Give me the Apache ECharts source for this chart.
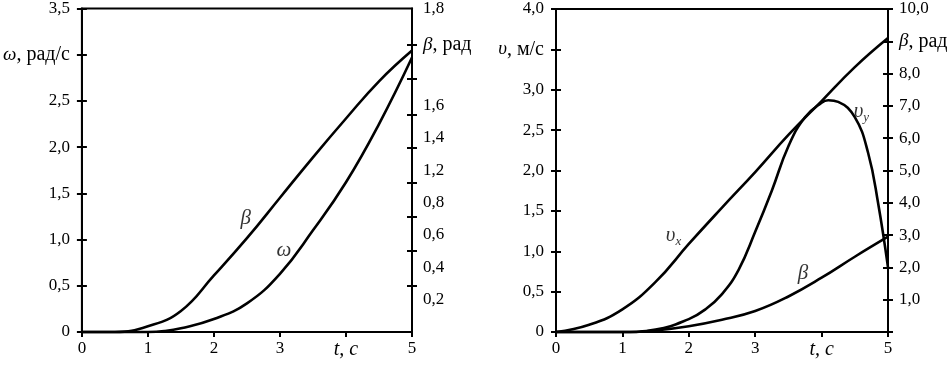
<!DOCTYPE html>
<html><head><meta charset="utf-8">
<script src="https://cdn.jsdelivr.net/npm/echarts@6/dist/echarts.min.js"></script>
<style>html,body{margin:0;padding:0;background:#fff}#c{width:951px;height:365px}</style>
</head><body><div id="c"></div>
<script>
// ---------- Left panel data ----------
const omegaT = [0, 0.5, 1.0, 1.25, 1.5, 2.0, 2.5, 3.0, 3.5, 4.0, 4.5, 5.0];
const omegaV = [0, 0, 0, 0.01, 0.04, 0.14, 0.31, 0.63, 1.10, 1.62, 2.25, 2.97];
const betaLT = [0, 0.5, 1.0, 1.5, 2.0, 2.5, 3.0, 3.5, 4.0, 4.5, 5.0];
const betaLV = [0, 0, 0.035, 0.13, 0.35, 0.58, 0.83, 1.08, 1.32, 1.55, 1.74];
// ---------- Right panel data ----------
const vxT = [0, 0.5, 1.0, 1.5, 2.0, 2.5, 3.0, 3.5, 4.0, 4.5, 5.0];
const vxV = [0, 0.09, 0.28, 0.62, 1.09, 1.54, 1.98, 2.44, 2.86, 3.28, 3.64];
const vyT = [0, 1.0, 1.5, 2.0, 2.25, 2.5, 2.75, 3.0, 3.25, 3.5, 3.75, 4.0, 4.1, 4.25, 4.5, 4.7, 4.85, 5.0];
const vyV = [0, 0, 0.03, 0.16, 0.28, 0.47, 0.77, 1.24, 1.75, 2.30, 2.66, 2.84, 2.87, 2.85, 2.66, 2.22, 1.60, 0.80];
const betaRT = [0, 1.0, 1.5, 2.0, 2.5, 3.0, 3.5, 4.0, 4.5, 5.0];
const betaRV = [0, 0, 0.05, 0.18, 0.38, 0.65, 1.10, 1.68, 2.33, 2.95];

// ---------- Tick labels ----------
const xTickLabels = ['0', '1', '2', '3', '{t|t, c}', '5'];
const omegaTickLabels = ['0', '0,5', '1,0', '1,5', '2,0', '2,5', '{i|ω}{u|, рад/с}', '3,5'];
const betaLTickPos = [0.288, 0.503, 0.712, 0.922, 1.137, 1.345, 1.566, 1.775];
const betaLLabelPos = [0.2, 0.4, 0.6, 0.8, 1.0, 1.2, 1.4, 1.775, 2.0];
const betaLLabels = ['0,2', '0,4', '0,6', '0,8', '1,2', '1,4', '1,6', '{i|β}{u|, рад}', '1,8'];
const vTickLabels = ['0', '0,5', '1,0', '1,5', '2,0', '2,5', '3,0', '{i|υ}{u|, м/с}', '4,0'];
const betaRTickLabels = ['', '1,0', '2,0', '3,0', '4,0', '5,0', '6,0', '7,0', '8,0', '{i|β}{u|, рад}', '10,0'];

// ---------- Curve name annotations ----------
const annTextL = ['{i|β}', '{i|ω}'];
const annTL = [2.48, 3.06];
const annVL = [1.23, 0.88];
const annTextR = ['{i|υ}{s|x}', '{i|υ}{s|y}', '{i|β}'];
const annTR = [1.77, 4.6, 3.72];
const annVR = [1.20, 2.73, 0.73];

const FONT = 'Liberation Serif';
const FS = 17;
const rich = {
  i: { fontFamily: FONT, fontSize: 19, fontStyle: 'italic', color: '#000' },
  u: { fontFamily: FONT, fontSize: 20, color: '#000' },
  t: { fontFamily: FONT, fontSize: 20, fontStyle: 'italic', color: '#000' },
  s: { fontFamily: FONT, fontSize: 13, fontStyle: 'italic', color: '#000', padding: [12, 0, 0, 0] }
};
const pair = (a, b) => a.map((t, k) => [t, b[k]]);
const line = (x, y, data) => ({
  type: 'line', xAxisIndex: x, yAxisIndex: y, data, smooth: 0.45, symbol: 'none',
  lineStyle: { color: '#000', width: 2.6 }, z: 3, clip: false
});
const ann = (x, y, ts, vs, texts) => ({
  type: 'scatter', xAxisIndex: x, yAxisIndex: y, symbolSize: 0, silent: true, z: 5,
  data: ts.map((t, k) => ({ value: [t, vs[k]], label: { formatter: texts[k] } })),
  label: { show: true, position: 'inside', fontFamily: FONT, fontSize: 20, color: '#000',
    rich: { i: Object.assign({}, rich.i, { fontSize: 21 }), s: rich.s } }
});
const lblFmt = (vals, labels) => v => {
  for (let k = 0; k < vals.length; k++) if (Math.abs(vals[k] - v) < 1e-6) return labels[k];
  return '';
};
const axisLineStyle = { show: true, lineStyle: { color: '#000', width: 2 } };
const labelBase = { color: '#000', fontFamily: FONT, fontSize: FS, rich };

function xAxes(grid) {
  return [{
    type: 'value', gridIndex: grid, min: 0, max: 5, interval: 1,
    axisLine: axisLineStyle, splitLine: { show: false },
    axisTick: { show: true, length: 5, lineStyle: { color: '#000', width: 2 } },
    axisLabel: Object.assign({}, labelBase, { margin: 8, formatter: v => xTickLabels[Math.round(v)] })
  }, {
    type: 'value', gridIndex: grid, min: 0, max: 5, interval: 1,
    axisLine: { show: false }, splitLine: { show: false }, axisLabel: { show: false },
    axisTick: { show: true, inside: true, length: 5, lineStyle: { color: '#000', width: 2 } }
  }];
}
function yPair(grid, pos, min, max, interval, fmt, margin, customTicks, customLabels) {
  const main = {
    type: 'value', gridIndex: grid, position: pos, min, max, interval,
    axisLine: axisLineStyle, splitLine: { show: false },
    axisTick: { show: true, length: 5, lineStyle: { color: '#000', width: 2 } },
    axisLabel: Object.assign({}, labelBase, { margin, formatter: fmt, showMinLabel: true, showMaxLabel: true })
  };
  const dup = {
    type: 'value', gridIndex: grid, position: pos, min, max, interval,
    axisLine: { show: false }, splitLine: { show: false }, axisLabel: { show: false },
    axisTick: { show: true, inside: true, length: 5, lineStyle: { color: '#000', width: 2 } }
  };
  if (customTicks) {
    main.axisTick.customValues = customTicks;
    dup.axisTick.customValues = customTicks;
    main.axisLabel.customValues = customLabels;
  }
  return [main, dup];
}

const chart = echarts.init(document.getElementById('c'), null, { renderer: 'canvas' });
const option = {
  animation: false,
  backgroundColor: '#fff',
  grid: [
    { left: 80, right: 539, top: 7, bottom: 33, show: true, borderColor: '#000', borderWidth: 2, backgroundColor: 'transparent' },
    { left: 556, right: 63, top: 9, bottom: 33, show: true, borderColor: '#000', borderWidth: 2, backgroundColor: 'transparent' }
  ],
  xAxis: [...xAxes(0), ...xAxes(1)],
  yAxis: [
    ...yPair(0, 'left', 0, 3.5, 0.5, v => omegaTickLabels[Math.round(v / 0.5)], 12),
    ...yPair(0, 'right', 0, 2.0, null, lblFmt(betaLLabelPos, betaLLabels), 11, betaLTickPos, betaLLabelPos),
    ...yPair(1, 'left', 0, 4.0, 0.5, v => vTickLabels[Math.round(v / 0.5)], 12),
    ...yPair(1, 'right', 0, 10, 1, v => betaRTickLabels[Math.round(v)], 11)
  ],
  series: [
    line(0, 0, pair(omegaT, omegaV)),
    line(0, 2, pair(betaLT, betaLV)),
    ann(0, 0, annTL, annVL, annTextL),
    line(2, 4, pair(vxT, vxV)),
    line(2, 4, pair(vyT, vyV)),
    line(2, 6, pair(betaRT, betaRV)),
    ann(2, 4, annTR, annVR, annTextR)
  ]
};
chart.setOption(option);
</script>
</body></html>
